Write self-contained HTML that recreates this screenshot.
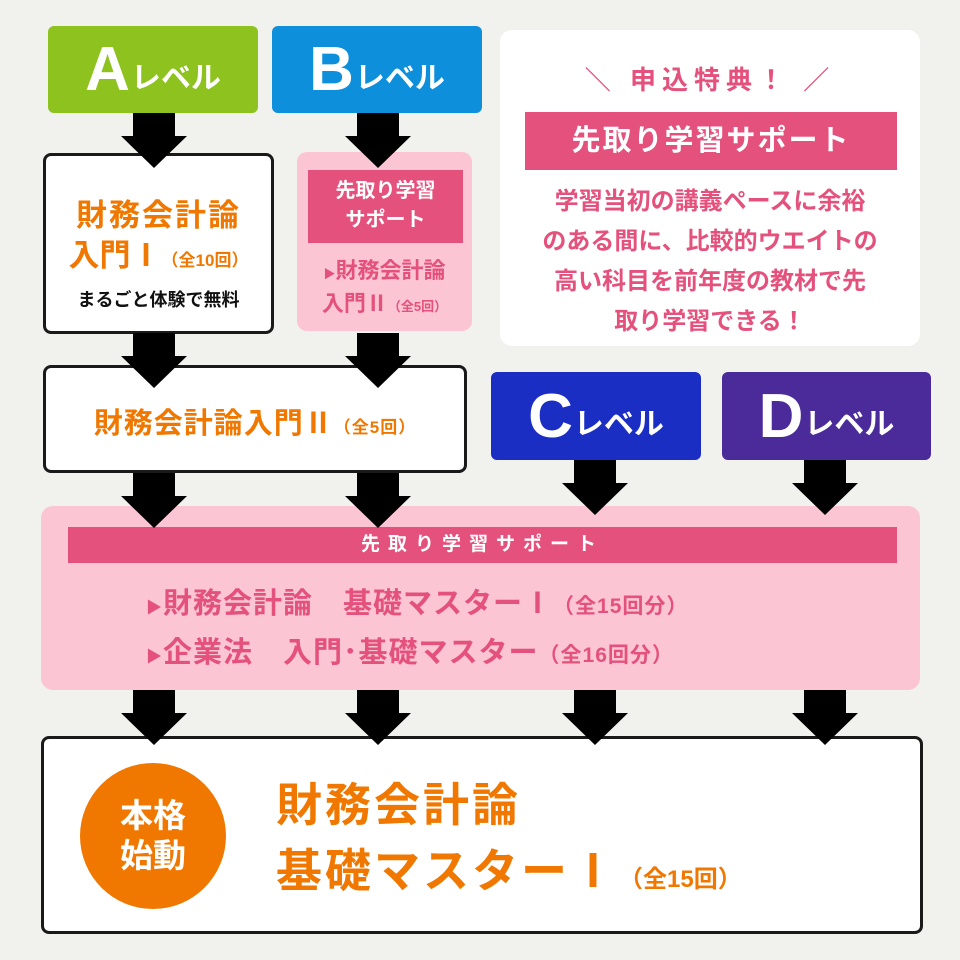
<!DOCTYPE html>
<html><head><meta charset="utf-8"><style>
*{margin:0;padding:0;box-sizing:border-box}
body{width:960px;height:960px;background:#f1f1ed;position:relative;overflow:hidden;font-family:"Liberation Sans","Noto Sans CJK JP",sans-serif;font-weight:bold}
.a{position:absolute}
.lv{position:absolute;border-radius:6px;color:#fff;display:flex;align-items:center;justify-content:center}
.lv b{font-size:62px;font-family:"Liberation Sans",sans-serif;letter-spacing:-1px}
.lv span{font-size:30px;margin-left:2px;margin-top:10px}
.box{position:absolute;background:#fff;border:3px solid #1a1a1a;border-radius:8px}
.or{color:#f07800}
.pk{color:#e4517c}
.c{text-align:center}
</style></head><body>
<div class="lv" style="left:48px;top:26px;width:210px;height:87px;background:#8dc21f"><b>A</b><span>レベル</span></div>
<div class="lv" style="left:272px;top:26px;width:210px;height:87px;background:#0e8fdc"><b>B</b><span>レベル</span></div>
<div class="lv" style="left:491px;top:372px;width:210px;height:88px;background:#1a2ec4"><b>C</b><span>レベル</span></div>
<div class="lv" style="left:722px;top:372px;width:209px;height:88px;background:#4b2a9a"><b>D</b><span>レベル</span></div>

<div class="a" style="left:500px;top:30px;width:420px;height:316px;background:#fff;border-radius:12px"></div>
<div class="a pk c" style="left:500px;top:60px;width:420px;font-size:26px;letter-spacing:6px">＼ 申込特典！ ／</div>
<div class="a c" style="left:525px;top:112px;width:372px;height:58px;background:#e4517c;color:#fff;font-size:29px;line-height:58px;letter-spacing:2px">先取り学習サポート</div>
<div class="a pk c" style="left:505px;top:182px;width:410px;font-size:24px;line-height:40px">学習当初の講義ペースに余裕<br>のある間に、比較的ウエイトの<br>高い科目を前年度の教材で先<br>取り学習できる！</div>

<div class="box" style="left:43px;top:153px;width:231px;height:181px"></div>
<div class="a or c" style="left:43px;top:190px;width:231px;font-size:31px;letter-spacing:2px">財務会計論</div>
<div class="a or c" style="left:43px;top:230px;width:231px;font-size:31px">入門Ⅰ<span style="font-size:17px">（全10回）</span></div>
<div class="a c" style="left:43px;top:286px;width:231px;font-size:18px;color:#111">まるごと体験で無料</div>

<div class="a" style="left:297px;top:152px;width:175px;height:179px;background:#fcc5d3;border-radius:10px"></div>
<div class="a c" style="left:308px;top:170px;width:155px;height:73px;background:#e4517c;color:#fff;font-size:20px;line-height:29px;padding-top:7px">先取り学習<br>サポート</div>
<div class="a pk c" style="left:297px;top:256px;width:175px;font-size:22px;line-height:30px"><span style="font-size:12px">▶</span>財務会計論<br>入門Ⅱ<span style="font-size:13px">（全5回）</span></div>

<div class="box" style="left:43px;top:365px;width:424px;height:108px"></div>
<div class="a or c" style="left:43px;top:400px;width:424px;font-size:29px;letter-spacing:1px">財務会計論入門Ⅱ<span style="font-size:17px">（全5回）</span></div>

<div class="a" style="left:41px;top:506px;width:879px;height:184px;background:#fcc5d3;border-radius:12px"></div>
<div class="a c" style="left:68px;top:527px;width:829px;height:36px;background:#e4517c;color:#fff;font-size:19px;line-height:36px;letter-spacing:8px">先取り学習サポート</div>
<div class="a pk" style="left:146px;top:582px;font-size:29px;line-height:44px;letter-spacing:1px"><span style="font-size:16px">▶</span>財務会計論　基礎マスターⅠ<span style="font-size:21px">（全15回分）</span><br><span style="font-size:16px">▶</span>企業法　入門･基礎マスター<span style="font-size:21px">（全16回分）</span></div>

<div class="box" style="left:41px;top:736px;width:882px;height:198px"></div>
<div class="a c" style="left:80px;top:763px;width:146px;height:146px;border-radius:50%;background:#f07800;color:#fff;font-size:33px;line-height:40px;padding-top:33px">本格<br>始動</div>
<div class="a or" style="left:276px;top:772px;font-size:46px;letter-spacing:3px;line-height:66px">財務会計論<br>基礎マスターⅠ<span style="font-size:24px;letter-spacing:0">（全15回）</span></div>

<svg class="a" style="left:0;top:0;z-index:5" width="960" height="960">
<g fill="#000">
<path id="ar" d="M-21 0H21V23H33L0 55L-33 23H-21Z" transform="translate(154 113)"/>
<use href="#ar" x="224" y="0"/>
<use href="#ar" x="0" y="220"/><use href="#ar" x="224" y="220"/>
<use href="#ar" x="0" y="360"/><use href="#ar" x="224" y="360"/>
<use href="#ar" x="441" y="347"/><use href="#ar" x="671" y="347"/>
<use href="#ar" x="0" y="577"/><use href="#ar" x="224" y="577"/>
<use href="#ar" x="441" y="577"/><use href="#ar" x="671" y="577"/>
</g></svg>
</body></html>
